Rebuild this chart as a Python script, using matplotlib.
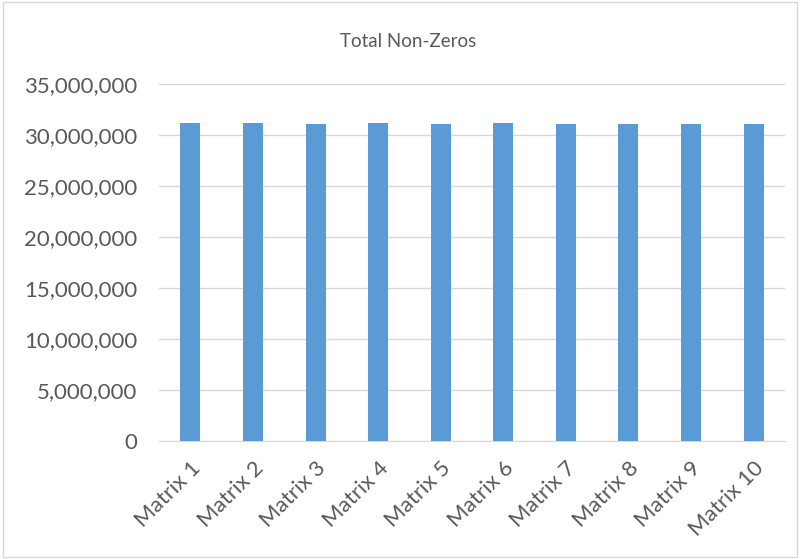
import matplotlib.pyplot as plt
from matplotlib.ticker import FuncFormatter
from matplotlib.patches import Rectangle

plt.rcParams['font.family'] = ['Lato', 'DejaVu Sans']

matrices = ['Matrix 1', 'Matrix 2', 'Matrix 3', 'Matrix 4', 'Matrix 5',
            'Matrix 6', 'Matrix 7', 'Matrix 8', 'Matrix 9', 'Matrix 10']
non_zeros = [31150000, 31150000, 31080000, 31150000, 31080000,
             31150000, 31080000, 31080000, 31080000, 31080000]

fig = plt.figure(figsize=(8, 5.59), dpi=100)
ax = fig.add_axes([0.199, 0.211, 0.782, 0.639])

x = range(len(matrices))
ax.bar(x, non_zeros, width=0.32, color='#5B9BD5', zorder=3)

ax.set_xlim(-0.5, len(matrices) - 0.5)
ax.set_ylim(0, 35000000)
ax.set_yticks(range(0, 35000001, 5000000))
ax.yaxis.set_major_formatter(FuncFormatter(lambda v, p: f'{int(v):,}'))
ax.grid(axis='y', color='#D9D9D9', linewidth=1, zorder=0)

ax.set_xticks(list(x))
ax.set_xticklabels(matrices, rotation=45, ha='right', rotation_mode='anchor')
ax.tick_params(axis='both', length=0, labelsize=16, colors='#595959')
ax.tick_params(axis='y', pad=16)
ax.tick_params(axis='x', pad=12)

for side in ['top', 'right', 'left']:
    ax.spines[side].set_visible(False)
ax.spines['bottom'].set_color('#D9D9D9')

fig.text(0.51, 0.925, 'Total Non-Zeros', ha='center', va='center',
         fontsize=13.5, color='#595959')

fig.patches.append(Rectangle((0.004, 0.004), 0.992, 0.992, transform=fig.transFigure,
                             fill=False, edgecolor='#D9D9D9', linewidth=1))

fig.savefig('out.png', dpi=100)
